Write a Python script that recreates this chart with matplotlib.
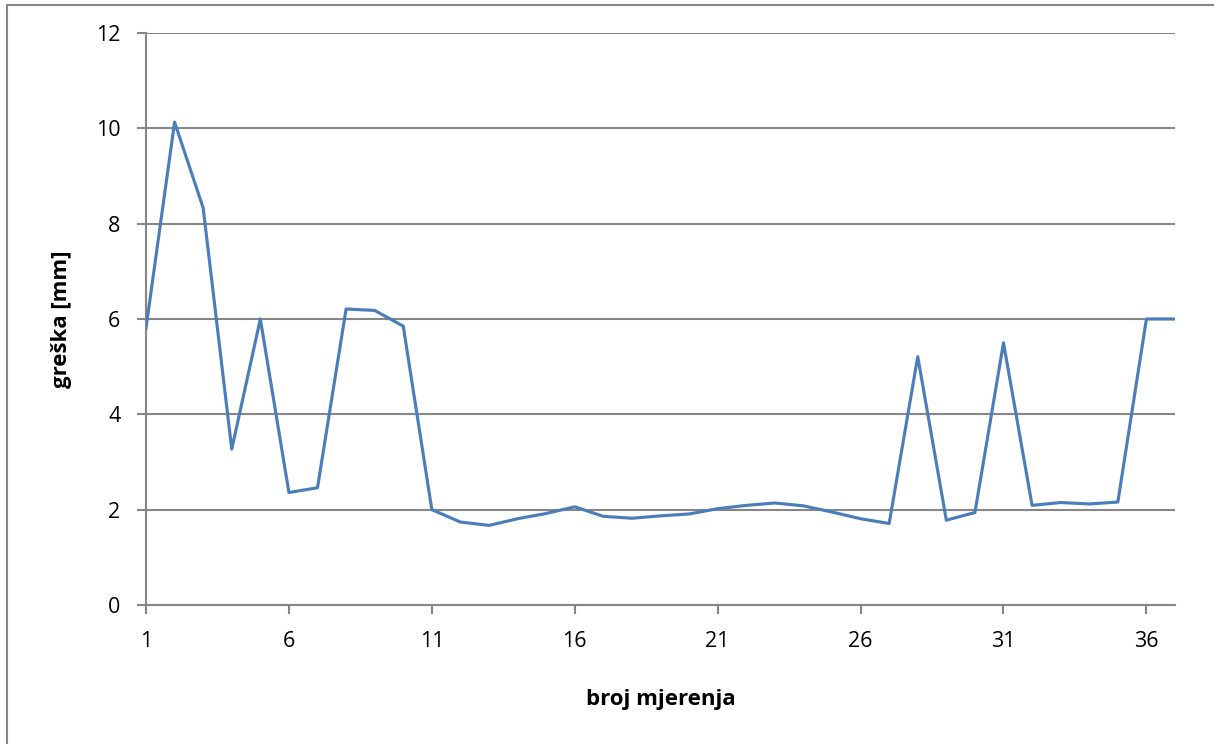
import matplotlib.pyplot as plt
from matplotlib.patches import Rectangle

plt.rcParams['font.family'] = ['Open Sans', 'DejaVu Sans']

mjerenje = list(range(1, 38))
greska = [5.81, 10.13, 8.33, 3.27, 6.00, 2.36, 2.46, 6.21, 6.18, 5.85,
          2.00, 1.74, 1.67, 1.81, 1.92, 2.06, 1.86, 1.82, 1.87, 1.91,
          2.02, 2.09, 2.14, 2.08, 1.95, 1.81, 1.71, 5.21, 1.78, 1.94,
          5.50, 2.09, 2.15, 2.12, 2.16, 6.00, 6.00]
x_ticks = [1, 6, 11, 16, 21, 26, 31, 36]
y_ticks = [0, 2, 4, 6, 8, 10, 12]

grey = '#868686'

fig = plt.figure(figsize=(12.14, 7.44), dpi=100)
ax = fig.add_axes([146/1214, 1-605/744, (1175-146)/1214, (605-33)/744])

# outer chart border (right and bottom edges fall outside the picture)
fig.patches.append(Rectangle((7/1214, -0.05), 1.1, 1 - 5/744 + 0.05, transform=fig.transFigure,
                             fill=False, edgecolor=grey, linewidth=1.5))

ax.plot(mjerenje, greska, color='#4A7EBB', linewidth=2.25, zorder=3)

ax.set_xlim(1, 37)
ax.set_ylim(0, 12)
ax.set_xticks(x_ticks)
ax.set_yticks(y_ticks)
ax.yaxis.grid(True, color=grey, linewidth=1.5)
ax.set_axisbelow(True)
for s in ['top', 'right']:
    ax.spines[s].set_visible(False)
for s in ['left', 'bottom']:
    ax.spines[s].set_color(grey)
    ax.spines[s].set_linewidth(1.5)
ax.tick_params(axis='both', direction='out', length=6.5, width=1.5, color=grey,
               labelsize=15.5)
ax.tick_params(axis='x', pad=12)
ax.tick_params(axis='y', pad=12)

ax.set_xlabel('broj mjerenja', fontsize=16, fontweight='bold', va='center')
ax.xaxis.set_label_coords(0.5, (605-700)/572)
ax.set_ylabel('greška [mm]', fontsize=16, fontweight='bold', va='center')
ax.yaxis.set_label_coords((61-146)/1029, 0.5)

fig.savefig('out.png', dpi=100)
